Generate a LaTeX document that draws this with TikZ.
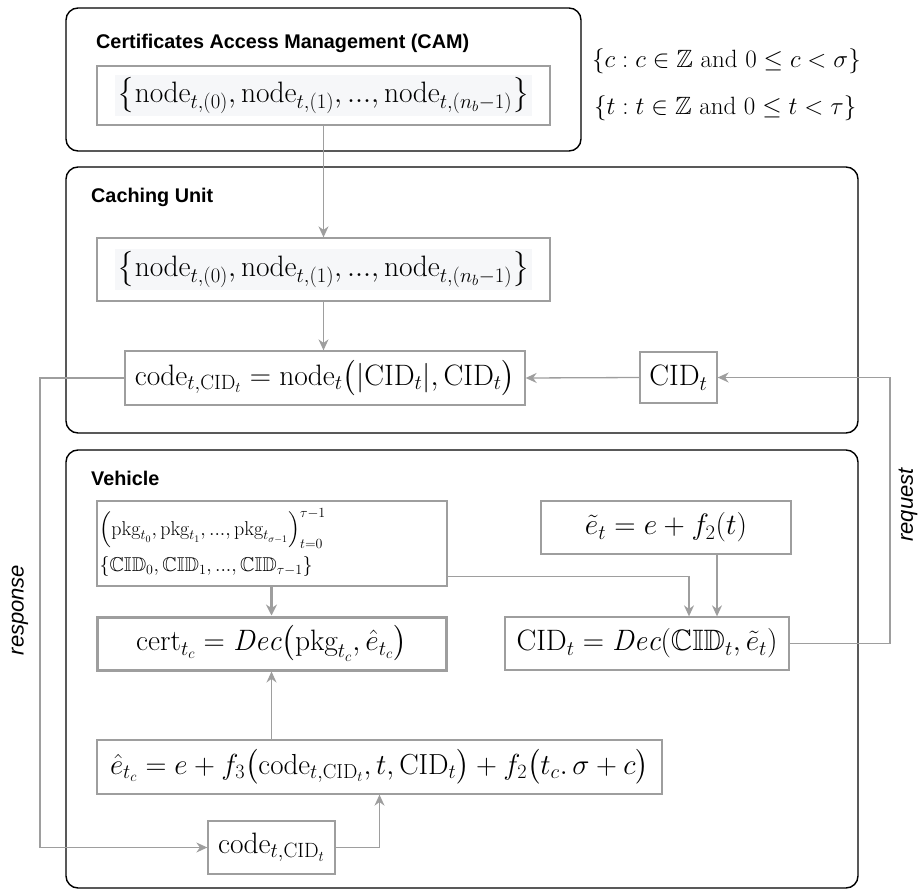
\RequirePackage{fix-cm}
\documentclass[tikz,border=0pt]{standalone}
\usepackage{amsmath,amssymb}
\usepackage{fontspec}
\setsansfont{Liberation Sans}
\usetikzlibrary{arrows.meta,calc}

\definecolor{linegray}{HTML}{9E9E9E}
\definecolor{hl}{HTML}{F6F7F9}

\newcommand\formulasize{\fontsize{29.5}{35}\selectfont}
\newcommand\smallformulasize{\fontsize{20}{25}\selectfont}
\newcommand\titlesize{\fontsize{19.8}{23}\selectfont}

\tikzset{
  container/.style={draw=black, line width=1.4pt, rounded corners=12pt, inner sep=0pt},
  mbox/.style={draw=linegray, line width=1.3pt, inner sep=0pt, font=\formulasize},
  heavybox/.style={mbox, line width=3pt},
  grouptitle/.style={font=\sffamily\bfseries\titlesize, anchor=base west, inner sep=0pt},
  sidelabel/.style={font=\sffamily\itshape\fontsize{22}{26}\selectfont, rotate=90, inner sep=0pt},
  settext/.style={font=\fontsize{25}{30}\selectfont, anchor=west, inner sep=0pt},
  link/.style={draw=linegray, line width=1.3pt, -{Stealth[length=11pt,width=10pt]}},
  heavylink/.style={link, line width=2.4pt, -{Stealth[length=11pt,width=11pt]}},
}

\newcommand\nodeset{\colorbox{hl}{$\bigl\{\mathrm{node}_{t,(0)},\mathrm{node}_{t,(1)},...,\mathrm{node}_{t,(n_b-1)}\bigr\}$}}

\begin{document}
\begin{tikzpicture}[x=1pt, y=-1pt]
\useasboundingbox (0,0) rectangle (922,889);

% group containers
\node[container, minimum width=515pt, minimum height=143pt] (cam) at (323.5,79.5) {};
\node[container, minimum width=792pt, minimum height=266pt] (cache) at (462,300) {};
\node[container, minimum width=792pt, minimum height=438pt] (vehicle) at (462,669) {};

\node[grouptitle] (camtitle) at (96,48) {Certificates Access Management (CAM)};
\node[grouptitle] (cachetitle) at (91,202) {Caching Unit};
\node[grouptitle] (vehtitle) at (91,485) {Vehicle};

% index sets
\node[settext] (cset) at (592,61) {$\{c : c\in\mathbb{Z}\ \text{and}\ 0\le c<\sigma\}$};
\node[settext] (tset) at (594,108) {$\{t : t\in\mathbb{Z}\ \text{and}\ 0\le t<\tau\}$};

% CAM and caching unit boxes
\node[mbox, minimum width=453pt, minimum height=59pt] (camset) at (323.5,95.5) {\nodeset};
\node[mbox, minimum width=453pt, minimum height=63pt] (cacheset) at (323.5,269.5) {\nodeset};
\node[mbox, minimum width=400pt, minimum height=54pt] (code) at (325,378)
  {$\mathrm{code}_{t,\mathrm{CID}_t}=\mathrm{node}_t\bigl(|\mathrm{CID}_t|,\mathrm{CID}_t\bigr)$};
\node[mbox, minimum width=77pt, minimum height=51pt] (cidc) at (678.5,377.5) {$\mathrm{CID}_t$};

% vehicle boxes
\node[mbox, minimum width=350pt, minimum height=85pt] (pkg) at (272,543.5) {};
\node[font=\smallformulasize, anchor=north west, align=left, inner sep=0pt] (pkgtext) at ($(pkg.north west)+(3,8)$)
  {$\Bigl(\mathrm{pkg}_{t_0},\mathrm{pkg}_{t_1},...,\mathrm{pkg}_{t_{\sigma-1}}\Bigr)_{t=0}^{\tau-1}$\\[7pt]
   $\{\mathbb{CID}_0,\mathbb{CID}_1,...,\mathbb{CID}_{\tau-1}\}$};
\node[mbox, minimum width=250pt, minimum height=53pt] (etilde) at (666,527.5) {$\tilde e_t=e+f_2(t)$};
\node[heavybox, minimum width=349pt, minimum height=53pt] (cert) at (271.5,643.5)
  {$\mathrm{cert}_{t_c}=\mathit{Dec}\bigl(\mathrm{pkg}_{t_c},\hat e_{t_c}\bigr)$};
\node[mbox, minimum width=284pt, minimum height=53pt] (ciddec) at (647,643.5)
  {$\mathrm{CID}_t=\mathit{Dec}(\mathbb{CID}_t,\tilde e_t)$};
\node[mbox, minimum width=565pt, minimum height=54pt, font=\fontsize{29}{34}\selectfont] (ehat) at (379.5,767)
  {$\hat e_{t_c}=e+f_3\bigl(\mathrm{code}_{t,\mathrm{CID}_t},t,\mathrm{CID}_t\bigr)+f_2\bigl(t_c.\,\sigma+c\bigr)$};
\node[mbox, minimum width=127pt, minimum height=53pt] (codev) at (271.5,847.5) {$\mathrm{code}_{t,\mathrm{CID}_t}$};

% connectors
\draw[link] (camset.south) -- (cacheset.north);
\draw[link] (cacheset.south) -- (cacheset.south |- code.north);
\draw[link] (cidc.west) -- (code.east);
\draw[heavylink] (pkg.south -| cert.north) -- (cert.north);
\draw[link] ($(pkg.south east)+(0,-10)$) -| ($(ciddec.north)+(42,0)$);
\draw[link] ($(etilde.south)+(51,0)$) -- ($(ciddec.north)+(70,0)$);
\draw[link] (cert.south |- ehat.north) -- (cert.south);
\draw[link] (codev.east) -| (ehat.south);

% request / response between vehicle and caching unit
\coordinate (reqx) at (890,500);
\coordinate (respx) at (40,600);
\draw[link] (ciddec.east) -| (reqx) |- (cidc.east);
\draw[link] (code.west) -| (respx) |- (codev.west);

\node[sidelabel] (reqlabel) at (908,505) {request};
\node[sidelabel] (resplabel) at (20,610) {response};
\end{tikzpicture}
\end{document}
